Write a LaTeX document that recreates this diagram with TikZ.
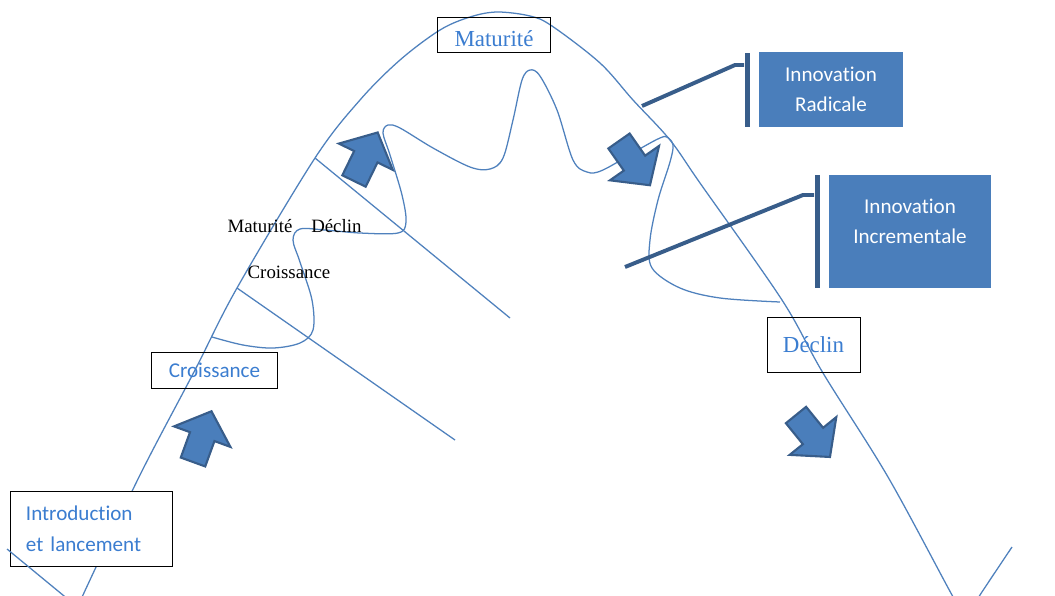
\documentclass[tikz,border=0pt]{standalone}
\usepackage{fontspec}
\setmainfont{Liberation Serif}
\newfontfamily\calibri[Ligatures=NoCommon]{Carlito}
\usepackage{tikz}

\definecolor{curveblue}{HTML}{4F81BD}
\definecolor{boxblue}{HTML}{4A7EBB}
\definecolor{darkblue}{HTML}{385D8A}
\definecolor{textblue}{HTML}{3B7DD0}

\tikzset{
  cycleline/.style={draw=curveblue, line width=0.9pt},
  stagebox/.style={draw=black, line width=0.7pt, inner sep=0pt, text=textblue},
  innobox/.style={fill=boxblue, inner sep=0pt, align=center, text=white, font=\calibri\fontsize{15}{21}\selectfont},
  innobar/.style={fill=darkblue, inner sep=0pt, minimum width=0.125cm},
  calloutline/.style={draw=darkblue, line width=2.8pt},
  blockarrow/.style={fill=boxblue, draw=darkblue, line width=1.5pt},
  pics/stagearrow/.style={code={
    \draw[blockarrow] (0,-13) -- (27,-13) -- (27,-30) -- (54,0) -- (27,30) -- (27,13) -- (0,13) -- cycle;}}
}

\begin{document}
\begin{tikzpicture}[x=0.025cm, y=-0.025cm]
\fill[white] (0,0) rectangle (1055,595);
\useasboundingbox (0,0) rectangle (1055,595);
\clip (0,0) rectangle (1055,595);

% life cycle
\draw[cycleline] plot[smooth, tension=0.55] coordinates {(74,618) (83,595) (140,475) (195,370) (237,288) (315,158) (360,100) (400,60) (440,30) (470,17) (497,12) (530,16) (552,26) (600,63) (633,100) (670,140) (700,183) (782,300) (823,373) (888,477) (952,595) (966,618) (980,595) (1012,547)};
\draw[cycleline] (237,288) -- (455,440);
\draw[cycleline] (315,158) -- (510,318);

% small cycles
\draw[cycleline] plot[smooth, tension=0.55] coordinates {(212,337) (243,345) (273,348) (300,343) (313,330) (312,300) (300,262) (293,240) (300,229) (325,230) (360,233) (398,233) (406,222) (402,195) (390,155) (383,133) (388,125) (400,128) (433,148) (470,167) (490,169) (503,158) (513,120) (522,80) (530,70) (540,76) (557,110) (573,160) (587,172) (603,170) (643,147) (660,138) (667,137) (673,145) (670,162) (658,200) (650,240) (652,268) (680,288) (720,298) (780,302)};

\node[stagebox, fill=white, minimum width=4.025cm, minimum height=1.875cm, align=left, text width=3.275cm, font=\calibri\fontsize{15}{22}\selectfont] (intro) at (91.5,528.5) {Introduction\\et lancement};
\draw[cycleline] (7,549) -- (75,605);

\node[stagebox, minimum width=3.125cm, minimum height=0.9cm, font=\calibri\fontsize{15}{18}\selectfont] (growbox) at (214.5,370) {Croissance};
\node[stagebox, minimum width=2.8cm, minimum height=0.875cm, text height=0.6cm, text depth=0pt, font=\fontsize{16.3}{19}\selectfont] (matbox) at (494,34.5) {Maturité};
\node[stagebox, minimum width=2.325cm, minimum height=1.375cm, font=\fontsize{16.3}{19}\selectfont] (declbox) at (813.5,344.5) {Déclin};

% innovations
\node[innobox, minimum width=3.6cm, minimum height=1.875cm] (radbox) at (831,89.5) {Innovation\\Radicale};
\node[innobar, minimum height=1.85cm] (radbar) at (747,90) {};
\node[innobox, minimum width=4.05cm, minimum height=2.825cm, text depth=0.5cm] (incbox) at (910,231.5) {Innovation\\Incrementale};
\node[innobar, minimum height=2.825cm] (incbar) at (817,231.5) {};

\coordinate (radfoot) at (642,106);
\coordinate (radknee) at (735,65);
\draw[calloutline] (radfoot) -- (radknee) -- (radknee -| radbar.west);
\coordinate (incfoot) at (625,267);
\coordinate (incknee) at (803,195);
\draw[calloutline] (incfoot) -- (incknee) -- (incknee -| incbar.west);

% arrows
\pic[rotate=70] at (193,462) {stagearrow};
\pic[rotate=64] at (354,181) {stagearrow};
\pic[rotate=-55] at (619,141) {stagearrow};
\pic[rotate=-51] at (796,415) {stagearrow};

\node[inner sep=0pt, font=\fontsize{13.4}{16}\selectfont] (phaselabel) at (294.5,226) {Maturité\quad Déclin};
\node[inner sep=0pt, font=\fontsize{13.4}{16}\selectfont] (growlabel) at (289,272) {Croissance};

\end{tikzpicture}
\end{document}
